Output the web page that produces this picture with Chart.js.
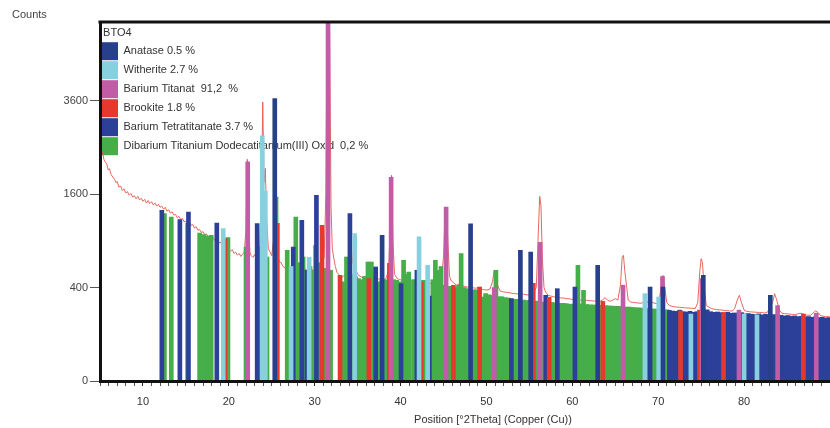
<!DOCTYPE html>
<html>
<head>
<meta charset="utf-8">
<script src="https://cdn.jsdelivr.net/npm/chart.js@4.4.1/dist/chart.umd.min.js"></script>
<style>
  html, body { margin: 0; padding: 0; background: #fff; overflow: hidden; }
  #wrap { width: 830px; height: 428px; }
</style>
</head>
<body>
<div id="wrap"><canvas id="xrdChart"></canvas></div>
<script>
// Measured scan BTO4 (2theta in degrees, counts)
const scanTheta = [5.0, 5.15, 5.3, 5.45, 5.6, 5.8, 5.95, 6.1, 6.3, 6.5, 6.7, 6.85, 7.0, 7.2, 7.4, 7.6, 7.8, 8.0, 8.2, 8.4, 8.6, 8.8, 9.0, 9.2, 9.4, 9.6, 9.8, 10.0, 10.2, 10.4, 10.6, 10.8, 11.0, 11.2, 11.4, 11.6, 11.8, 12.0, 12.2, 12.4, 12.6, 12.8, 13.0, 13.2, 13.4, 13.6, 13.8, 14.0, 14.2, 14.4, 14.6, 14.8, 15.0, 15.2, 15.4, 15.6, 15.8, 16.0, 16.2, 16.4, 16.6, 16.8, 17.0, 17.2, 17.4, 17.6, 17.8, 18.0, 18.2, 18.4, 18.6, 18.8, 19.0, 19.2, 19.4, 19.6, 19.8, 20.0, 20.2, 20.4, 20.6, 20.8, 21.0, 21.2, 21.4, 21.6, 21.8, 22.0, 22.15, 22.3, 22.45, 22.6, 22.8, 23.0, 23.2, 23.4, 23.6, 23.8, 23.95, 24.1, 24.25, 24.4, 24.6, 24.8, 25.0, 25.2, 25.35, 25.5, 25.7, 25.9, 26.1, 26.3, 26.5, 26.7, 26.9, 27.1, 27.3, 27.5, 27.7, 27.9, 28.1, 28.3, 28.5, 28.7, 28.9, 29.1, 29.3, 29.5, 29.7, 29.9, 30.1, 30.3, 30.5, 30.7, 30.9, 31.1, 31.3, 31.45, 31.6, 31.75, 31.9, 32.05, 32.2, 32.4, 32.6, 32.8, 33.0, 33.2, 33.4, 33.6, 33.8, 34.0, 34.2, 34.4, 34.6, 34.8, 35.0, 35.3, 35.6, 35.9, 36.2, 36.5, 36.8, 37.1, 37.4, 37.7, 38.0, 38.3, 38.6, 38.8, 38.95, 39.1, 39.3, 39.6, 39.9, 40.2, 40.5, 40.8, 41.1, 41.4, 41.7, 42.0, 42.3, 42.6, 42.9, 43.2, 43.5, 43.8, 44.1, 44.4, 44.7, 45.0, 45.2, 45.35, 45.5, 45.7, 45.9, 46.2, 46.5, 46.8, 47.1, 47.4, 47.7, 48.0, 48.3, 48.6, 48.9, 49.2, 49.5, 49.8, 50.1, 50.4, 50.7, 50.9, 51.1, 51.3, 51.6, 51.9, 52.2, 52.5, 52.8, 53.1, 53.4, 53.7, 54.0, 54.3, 54.6, 54.9, 55.2, 55.5, 55.8, 56.0, 56.2, 56.35, 56.5, 56.7, 56.9, 57.2, 57.5, 57.8, 58.1, 58.4, 58.7, 59.0, 59.3, 59.6, 59.9, 60.2, 60.5, 60.8, 61.1, 61.4, 61.7, 62.0, 62.3, 62.6, 62.9, 63.2, 63.5, 63.8, 64.1, 64.4, 64.7, 65.0, 65.3, 65.6, 65.8, 65.95, 66.1, 66.3, 66.5, 66.8, 67.1, 67.4, 67.7, 68.0, 68.3, 68.6, 68.9, 69.2, 69.5, 69.8, 70.1, 70.35, 70.55, 70.75, 71.0, 71.3, 71.6, 71.9, 72.2, 72.5, 72.8, 73.1, 73.4, 73.7, 74.0, 74.3, 74.6, 74.85, 75.0, 75.15, 75.35, 75.6, 75.9, 76.2, 76.5, 76.8, 77.1, 77.4, 77.7, 78.0, 78.3, 78.6, 78.9, 79.2, 79.45, 79.7, 80.0, 80.3, 80.6, 80.9, 81.2, 81.5, 81.8, 82.1, 82.4, 82.7, 83.0, 83.3, 83.55, 83.8, 84.1, 84.4, 84.7, 85.0, 85.3, 85.6, 85.9, 86.2, 86.5, 86.8, 87.1, 87.4, 87.7, 88.0, 88.3, 88.6, 88.9, 89.2, 89.5, 89.8, 90.0];
const scanCounts = [2450, 2380, 2400, 2250, 2200, 2150, 2040, 2060, 1950, 1900, 1860, 1800, 1820, 1720, 1740, 1660, 1690, 1620, 1640, 1580, 1610, 1550, 1570, 1520, 1560, 1500, 1530, 1480, 1510, 1450, 1490, 1440, 1470, 1420, 1450, 1400, 1430, 1380, 1400, 1350, 1380, 1320, 1340, 1290, 1310, 1260, 1270, 1220, 1240, 1190, 1210, 1160, 1170, 1130, 1150, 1110, 1120, 1070, 1090, 1040, 1050, 1010, 1020, 980, 990, 950, 960, 920, 935, 900, 910, 870, 885, 850, 860, 820, 800, 780, 770, 790, 745, 760, 725, 745, 710, 735, 760, 1050, 2250, 1200, 760, 720, 700, 730, 690, 720, 800, 1500, 3560, 1800, 2070, 1200, 800, 760, 720, 900, 1300, 900, 700, 650, 640, 600, 590, 560, 600, 580, 560, 600, 640, 620, 590, 600, 620, 600, 570, 560, 600, 580, 560, 580, 600, 580, 590, 620, 640, 700, 1600, 6000, 9000, 5200, 1400, 800, 704, 600, 540, 520, 500, 490, 510, 520, 540, 700, 900, 650, 600, 560, 520, 500, 490, 500, 510, 490, 480, 470, 475, 480, 470, 480, 560, 1100, 1936, 900, 520, 480, 470, 465, 460, 455, 450, 455, 450, 460, 450, 445, 440, 440, 435, 430, 440, 430, 440, 700, 1385, 1300, 900, 500, 460, 440, 420, 430, 420, 410, 405, 400, 400, 395, 395, 400, 385, 380, 380, 385, 450, 560, 520, 420, 370, 365, 360, 360, 355, 350, 350, 345, 350, 345, 340, 340, 345, 360, 400, 900, 1560, 1400, 700, 400, 360, 335, 330, 325, 320, 320, 315, 315, 310, 310, 305, 305, 305, 300, 300, 300, 298, 295, 295, 292, 292, 290, 300, 318, 300, 290, 300, 310, 300, 420, 700, 723, 560, 420, 300, 285, 283, 280, 278, 276, 285, 290, 280, 285, 278, 275, 290, 420, 511, 400, 280, 262, 255, 252, 250, 248, 247, 245, 244, 243, 242, 240, 280, 560, 685, 640, 400, 260, 250, 240, 236, 234, 232, 230, 228, 226, 225, 224, 240, 300, 336, 280, 230, 222, 220, 218, 217, 216, 215, 214, 212, 215, 250, 280, 349, 300, 230, 210, 208, 206, 205, 203, 202, 205, 210, 208, 200, 198, 197, 210, 225, 215, 196, 192, 190, 190, 188];

// Reference phase sticks
const anataseTheta = [25.35, 37.85, 48.15, 53.95, 55.15, 62.95, 69.05, 70.55, 75.25, 83.05];
const anataseCounts = [3650, 970, 1130, 780, 760, 612, 404, 404, 511, 336];

const witheriteTheta = [19.35, 23.9, 24.25, 27.25, 29.35, 34.65, 42.15, 43.15, 68.45, 70.05, 73.8, 80.0, 81.5];
const witheriteCounts = [1063, 2750, 1650, 600, 700, 993, 950, 612, 349, 323, 205, 205, 200];

const bariumTitanateTheta = [22.2, 31.55, 38.9, 45.3, 50.9, 56.25, 65.9, 70.5, 75.1, 79.4, 83.9, 88.4];
const bariumTitanateCounts = [2200, 7000, 1900, 1385, 400, 880, 420, 500, 480, 230, 260, 210];

const brookiteTheta = [19.55, 25.65, 30.85, 32.95, 36.3, 38.7, 42.4, 46.15, 49.2, 55.45, 57.3, 63.55, 72.6, 74.8, 77.6, 86.9];
const brookiteCounts = [928, 1137, 1108, 511, 480, 634, 450, 419, 404, 437, 320, 290, 225, 230, 215, 205];

const tetratitanateTheta = [12.2, 14.3, 15.3, 18.6, 23.3, 27.5, 28.5, 29.1, 30.2, 34.1, 37.1, 40.05, 41.9, 43.35, 52.9, 56.9, 58.25, 60.3,
  71.3, 71.7, 72.1, 72.5, 72.9, 73.3, 73.7, 74.1, 74.5, 74.9, 75.7, 76.1, 76.5, 76.9, 77.3, 77.7, 78.1, 78.5, 78.9, 79.3, 79.7, 80.1, 80.5, 80.9,
  81.3, 81.7, 82.1, 82.5, 82.9, 83.5, 83.9, 84.3, 84.7, 85.1, 85.5, 85.9, 86.3, 86.7, 87.1, 87.5, 87.9, 88.3, 88.7, 89.1, 89.5, 89.9];
const tetratitanateCounts = [1333, 1192, 1307, 1142, 1133, 821, 1182, 561, 1578, 1283, 595, 434, 561, 330, 311, 336, 390, 404,
  228, 224, 222, 230, 220, 218, 222, 216, 220, 226, 232, 220, 216, 218, 214, 212, 216, 210, 212, 208, 214, 206, 208, 204,
  202, 206, 200, 204, 198, 202, 196, 198, 194, 196, 192, 194, 190, 192, 188, 190, 186, 188, 184, 186, 182, 184];

const dibariumTheta = [12.5, 13.3, 15.2, 16.6, 17.1, 17.6, 17.95, 19.9, 22.0, 23.5, 24.45, 25.5, 26.8, 27.4, 27.8, 28.2, 28.65, 29.45, 29.85,
  30.1, 30.45, 30.8, 31.15, 31.5, 31.85, 33.35, 33.7, 34.05, 34.4, 34.75, 35.1, 35.45, 35.8, 36.2, 36.6, 37.0, 37.45, 37.8, 38.2, 38.55,
  39.2, 39.55, 39.9, 40.35, 40.65, 40.95, 41.5, 41.8, 42.5, 42.8, 43.75, 44.05, 44.4, 44.7, 45.05, 45.5, 46.0, 46.4, 46.75, 47.05, 47.4,
  47.75, 48.5, 48.85, 49.55, 49.9, 50.3, 50.65, 51.1, 51.45, 51.8, 52.2, 52.55, 53.25, 53.6, 54.35, 54.7, 55.0, 55.75, 56.0, 56.6, 57.05,
  57.6, 57.95, 58.6, 58.95, 59.3, 59.7, 60.05, 60.65, 61.0, 61.3, 61.7, 62.05, 62.45, 62.8, 63.25, 63.85, 64.2, 64.5, 64.85, 65.3, 65.65, 66.25,
  66.6, 66.95, 67.3, 67.65, 68.0, 68.4, 68.8, 69.4, 69.75, 70.15, 70.95, 71.15];
const dibariumCounts = [1283, 1231, 1137, 1000, 980, 960, 972, 940, 821, 821, 704, 1549, 781, 560, 1231, 640, 704, 600, 560,
  843, 640, 600, 580, 560, 561, 450, 704, 600, 520, 500, 480, 470, 500, 648, 648, 500, 450, 460, 470, 450,
  470, 464, 450, 667, 520, 543, 470, 470, 464, 464, 470, 667, 560, 600, 420, 410, 410, 400, 420, 743, 400,
  390, 380, 380, 323, 350, 340, 335, 561, 325, 325, 318, 315, 305, 305, 300, 295, 298, 292, 290, 285, 285,
  282, 280, 276, 276, 274, 270, 270, 612, 272, 376, 268, 265, 265, 262, 262, 260, 258, 257, 256, 255, 254, 250,
  250, 248, 246, 245, 244, 242, 240, 238, 236, 234, 232, 230];

const phaseNames = ['Anatase 0.5 %', 'Witherite 2.7 %', 'Barium Titanat  91,2  %', 'Brookite 1.8 %',
  'Barium Tetratitanate 3.7 %', 'Dibarium Titanium Dodecatitanium(III) Oxid  0,2 %'];
const phaseColors = ['#27408c', '#88cfe0', '#c35ca6', '#e5392e', '#2c409a', '#46ae49'];

const yTicks = [0, 400, 1600, 3600];

// counts are plotted on a square-root axis
const toPoints = (theta, counts) => theta.map((t, i) => ({ x: t, y: Math.sqrt(counts[i]) }));

const phaseData = [
  toPoints(anataseTheta, anataseCounts),
  toPoints(witheriteTheta, witheriteCounts),
  toPoints(bariumTitanateTheta, bariumTitanateCounts),
  toPoints(brookiteTheta, brookiteCounts),
  toPoints(tetratitanateTheta, tetratitanateCounts),
  toPoints(dibariumTheta, dibariumCounts)
];

const fontFamily = "'Liberation Sans', Arial, sans-serif";

const datasets = phaseData.map((data, i) => ({
  type: 'bar',
  label: phaseNames[i],
  data: data,
  backgroundColor: phaseColors[i],
  borderWidth: 0,
  barThickness: 4,
  stack: 'sticks',
  order: 0
}));

datasets.push({
  type: 'line',
  label: 'scan',
  data: toPoints(scanTheta, scanCounts),
  borderColor: 'rgba(229, 88, 78, 0.9)',
  borderWidth: 1,
  pointRadius: 0,
  tension: 0,
  order: 1
});

// top frame line, "Counts" and the axis title
const frameText = {
  id: 'frameText',
  afterDatasetsDraw(chart) {
    const { ctx, chartArea } = chart;
    ctx.save();
    ctx.strokeStyle = '#111';
    ctx.lineWidth = 3;
    ctx.beginPath();
    ctx.moveTo(chartArea.left - 1.5, chartArea.top);
    ctx.lineTo(chartArea.right, chartArea.top);
    ctx.stroke();
    ctx.restore();
  },
  afterDraw(chart) {
    const { ctx } = chart;
    ctx.save();
    ctx.fillStyle = '#444';
    ctx.font = '11px ' + fontFamily;
    ctx.textBaseline = 'middle';
    ctx.textAlign = 'left';
    ctx.fillText('Counts', 12, 15);
    ctx.textAlign = 'center';
    ctx.fillStyle = '#333';
    ctx.fillText('Position [°2Theta] (Copper (Cu))', 493, 420);
    ctx.restore();
  }
};

const ctx = document.getElementById('xrdChart').getContext('2d');
new Chart(ctx, {
  type: 'bar',
  data: { datasets: datasets },
  options: {
    responsive: true,
    maintainAspectRatio: false,
    animation: false,
    layout: { padding: { top: 22, left: 0, right: 0, bottom: 0 } },
    scales: {
      x: {
        type: 'linear',
        min: 5,
        max: 90,
        offset: false,
        grid: {
          offset: false,
          drawOnChartArea: false,
          tickLength: 5,
          tickColor: (c) => (c.tick && c.tick.value % 10 === 0 ? '#222' : '#555')
        },
        border: { color: '#111', width: 3, z: 1 },
        ticks: {
          stepSize: 1,
          autoSkip: false,
          maxRotation: 0,
          padding: 9,
          color: '#333',
          font: { size: 11, family: fontFamily },
          callback: (v) => (v % 10 === 0 && v < 90 ? v : '')
        },
        afterFit: (scale) => {
          scale.height = 47;
          scale.paddingLeft = 0;
          scale.paddingRight = 0;
        }
      },
      y: {
        type: 'linear',
        min: 0,
        max: 76.8,
        stacked: false,
        grid: { drawOnChartArea: false, tickLength: 10, tickColor: '#555' },
        border: { color: '#111', width: 3, z: 1 },
        ticks: {
          stepSize: 20,
          includeBounds: false,
          padding: 2,
          color: '#444',
          font: { size: 11, family: fontFamily },
          callback: (v) => (yTicks.includes(v * v) ? v * v : '')
        },
        afterFit: (scale) => { scale.width = 100; }
      }
    },
    plugins: {
      legend: {
        position: 'chartArea',
        align: 'start',
        title: {
          display: true,
          text: ' BTO4',
          position: 'start',
          color: '#333',
          // the legend box sits at the canvas top, so the plot top offset goes in here
          padding: { top: 27, bottom: 1 },
          font: { size: 11, family: fontFamily }
        },
        labels: {
          boxWidth: 17,
          boxHeight: 18,
          padding: 1,
          color: '#333',
          font: { size: 11, family: fontFamily },
          filter: (item) => item.text !== 'scan'
        }
      },
      tooltip: { enabled: false }
    }
  },
  plugins: [frameText]
});
</script>
</body>
</html>
